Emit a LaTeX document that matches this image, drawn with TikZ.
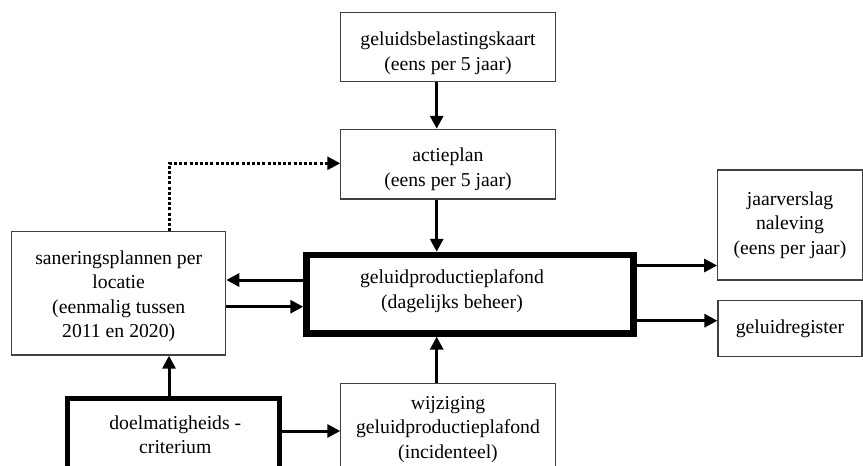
\documentclass[tikz,border=0pt]{standalone}
\usepackage{fontspec}
\setmainfont{Liberation Serif}
\usetikzlibrary{arrows.meta}
\begin{document}
\begin{tikzpicture}[x=1pt,y=-1pt,
  font=\fontsize{19.7pt}{24.5pt}\selectfont,
  box/.style={draw=black!75, line width=1.2pt, inner sep=0pt},
  thickbox/.style={draw=black, inner sep=0pt},
  tx/.style n args={3}{label={[align=center,xshift=#1,yshift=#2]center:{#3}}},
  arr/.style={line width=3pt, -{Triangle[length=13pt,width=13pt]}},
  dotarr/.style={line width=3pt, dash pattern=on 3pt off 2.2pt, -{Triangle[length=13pt,width=13pt]}}]
\useasboundingbox (0,0) rectangle (863,466);
\clip (0,0) rectangle (863,466);
% nodes
\node[box, minimum width=214.3pt, minimum height=69pt,
  tx={0pt}{-6pt}{geluidsbelastingskaart\\(eens per 5 jaar)}] (kaart) at (448,47.2) {};
\node[box, minimum width=214.3pt, minimum height=69.7pt,
  tx={0pt}{-5pt}{actieplan\\(eens per 5 jaar)}] (actie) at (448,164.2) {};
\node[thickbox, line width=6.5pt, minimum width=327pt, minimum height=78.4pt,
  tx={-18pt}{3pt}{geluidproductieplafond\\(dagelijks beheer)}] (main) at (470,294.2) {};
\node[box, minimum width=214pt, minimum height=123.3pt,
  tx={0pt}{-3pt}{saneringsplannen per\\locatie\\(eenmalig tussen\\2011 en 2020)}] (san) at (118.7,293.4) {};
\node[thickbox, line width=5pt, minimum width=211.7pt, minimum height=73pt,
  tx={2pt}{0pt}{doelmatigheids -\\criterium}] (doel) at (173.3,434.7) {};
\node[box, minimum width=214.3pt, minimum height=88.4pt,
  tx={0pt}{-2pt}{wijziging\\geluidproductieplafond\\(incidenteel)}] (wijz) at (448,427.5) {};
\node[box, minimum width=144.6pt, minimum height=110pt,
  tx={0pt}{0pt}{jaarverslag\\naleving\\(eens per jaar)}] (jaar) at (790,225) {};
\node[box, minimum width=144pt, minimum height=56pt,
  tx={0pt}{0pt}{geluidregister}] (reg) at (790,328.7) {};
% helper coordinates
\coordinate (xa) at (436.7,0);
\coordinate (xb) at (169,0);
\coordinate (yj) at (0,265.5);
\coordinate (yr) at (0,320.7);
\coordinate (yl) at (0,280);
\coordinate (yr2) at (0,306.7);
\coordinate (yd) at (0,431);
\coordinate (ydot) at (0,163.3);
\coordinate (bend) at (169,163.3);
% connectors
\draw[arr] (kaart.south -| xa) -- (actie.north -| xa);
\draw[arr] (actie.south -| xa) -- (main.north -| xa);
\draw[arr] (wijz.north -| xa) -- (main.south -| xa);
\draw[arr] (main.east |- yj) -- (jaar.west |- yj);
\draw[arr] (main.east |- yr) -- (reg.west |- yr);
\draw[arr] (main.west |- yl) -- (san.east |- yl);
\draw[arr] (san.east |- yr2) -- (main.west |- yr2);
\draw[arr] (doel.north -| xb) -- (san.south -| xb);
\draw[arr] (doel.east |- yd) -- (wijz.west |- yd);
\draw[dotarr] (san.north -| xb) -- (bend) -- (actie.west |- ydot);
\end{tikzpicture}
\end{document}
